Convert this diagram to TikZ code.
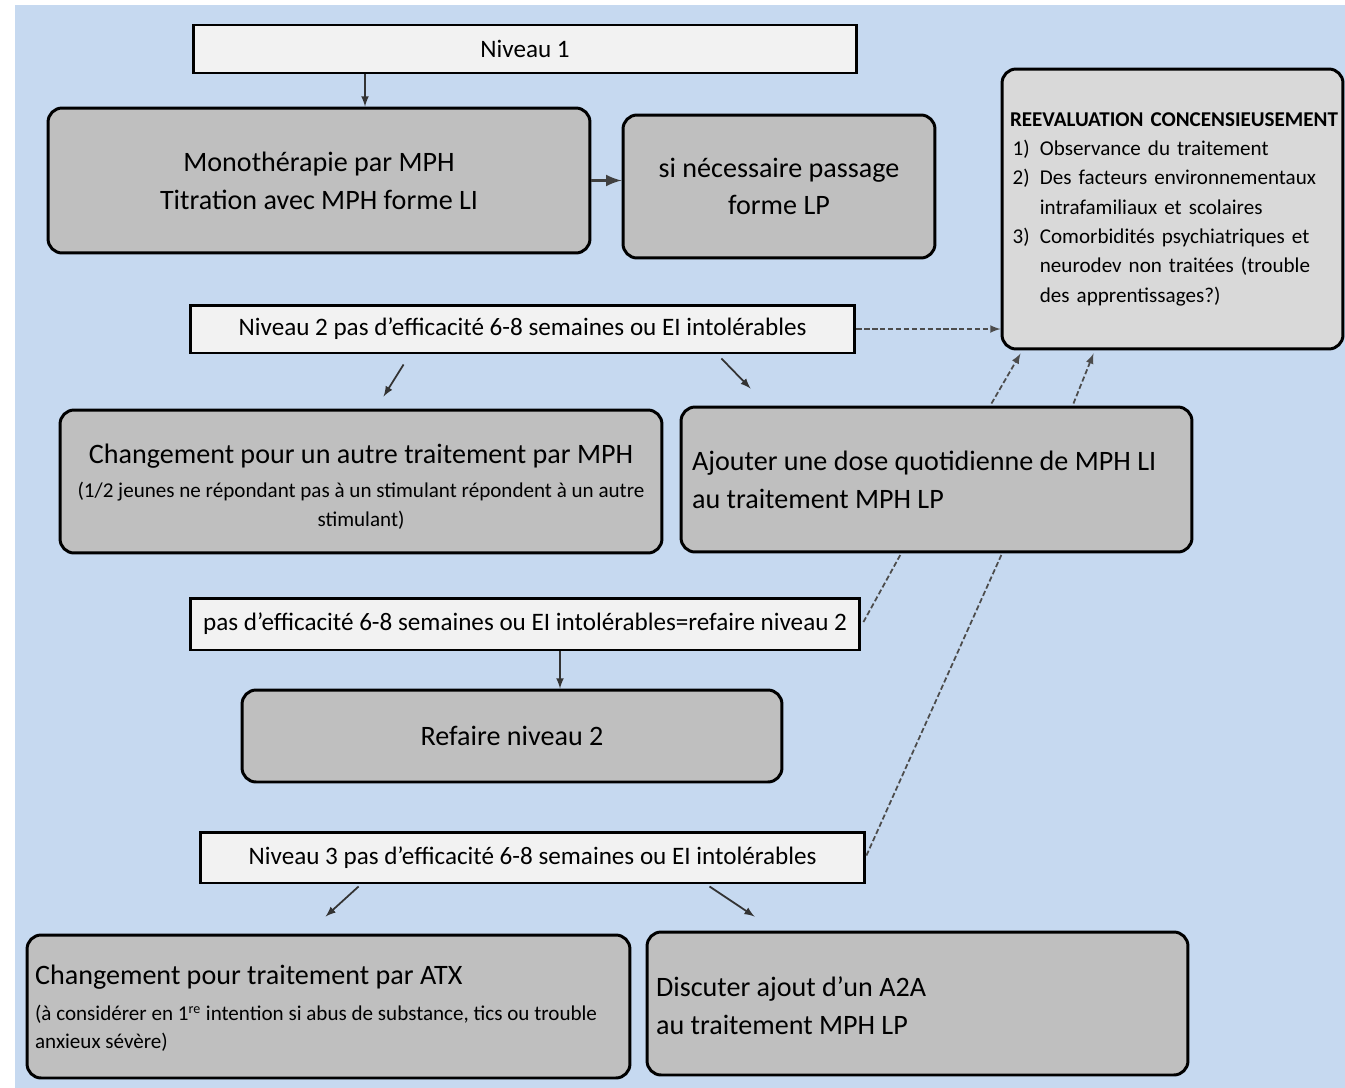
\documentclass[tikz,border=0pt]{standalone}
\usepackage{fontspec}
\setmainfont{Carlito}
\usepackage{tikz}
\usetikzlibrary{positioning}
\usetikzlibrary{arrows,calc}
\definecolor{bgblue}{RGB}{198,217,240}
\definecolor{lvlgray}{RGB}{242,242,242}
\definecolor{stepgray}{RGB}{191,191,191}
\definecolor{notegray}{RGB}{217,217,217}
\tikzstyle{levelbox}=[rectangle,draw=black,line width=1.7pt,fill=lvlgray,inner sep=0pt,font=\fontsize{14.3}{17}\selectfont]
\tikzstyle{stepbox}=[rectangle,rounded corners=8pt,draw=black,line width=1.7pt,fill=stepgray,inner sep=0pt,font=\fontsize{16}{21.5}\selectfont]
\tikzstyle{notebox}=[stepbox,fill=notegray,font=\fontsize{12}{16.7}\selectfont]
\tikzstyle{edge}=[draw=black!80,line width=1pt,-latex]
\tikzstyle{dashedge}=[draw=black!70,line width=1pt,dash pattern=on 3pt off 1.5pt]
\newcommand{\smalltxt}{\fontsize{12}{16}\selectfont}

\begin{document}
\begin{tikzpicture}[x=0.02cm,y=-0.02cm]

  \useasboundingbox (0,0) rectangle (1345,1088);
  \fill[bgblue] (15,5) rectangle (1345,1088);

  % niveau 1
  \node[levelbox,minimum width=13.28cm,minimum height=0.96cm] (niv1) at (525,49) {Niveau 1};
  \node[stepbox,minimum width=10.84cm,minimum height=2.9cm,align=center] (mono) at (319,180.5)
       {Monothérapie par MPH\\Titration avec MPH forme LI};
  \node[stepbox,minimum width=6.24cm,minimum height=2.86cm,align=center] (passage) at (779,186.5)
       {si nécessaire passage\\forme LP};

  \node[notebox,text width=6.5cm,inner xsep=0.16cm,minimum height=5.6cm,align=left] (reeval) at (1172.5,209)
       {\mbox{\bfseries REEVALUATION CONCENSIEUSEMENT}\\
        \hspace*{1.5pt}\makebox[15.5pt][l]{1)}Observance du traitement\\
        \hspace*{1.5pt}\makebox[15.5pt][l]{2)}Des facteurs environnementaux\\
        \hspace*{17pt}intrafamiliaux et scolaires\\
        \hspace*{1.5pt}\makebox[15.5pt][l]{3)}Comorbidités psychiatriques et\\
        \hspace*{17pt}neurodev non traitées (trouble\\
        \hspace*{17pt}des apprentissages?)};

  % niveau 2
  \node[levelbox,minimum width=13.3cm,minimum height=0.96cm] (niv2) at (522.5,329)
       {Niveau 2 pas d'efficacité 6-8 semaines ou EI intolérables};
  \node[stepbox,minimum width=12.04cm,minimum height=2.86cm,align=center] (autre) at (361,481.5)
       {\rule{0pt}{20pt}Changement pour un autre traitement par MPH\\[-2pt]
        {\smalltxt\begin{tabular}[t]{@{}c@{}}(1/2 jeunes ne répondant pas à un stimulant répondent à un autre\\stimulant)\end{tabular}}};
  \node[stepbox,text width=9.78cm,inner xsep=0.22cm,minimum height=2.9cm,align=flush left] (ajout) at (936.5,479.5)
       {Ajouter une dose quotidienne de MPH LI\\au traitement MPH LP};

  \node[levelbox,minimum width=13.4cm,minimum height=1.04cm] (echec) at (525,624)
       {pas d'efficacité 6-8 semaines ou EI intolérables=refaire niveau 2};
  \node[stepbox,minimum width=10.8cm,minimum height=1.84cm] (refaire) at (512,736) {Refaire niveau 2};

  % niveau 3
  \node[levelbox,minimum width=13.3cm,minimum height=1.02cm] (niv3) at (532.5,857.5)
       {Niveau 3 pas d'efficacité 6-8 semaines ou EI intolérables};
  \node[stepbox,text width=11.74cm,inner xsep=0.16cm,minimum height=2.86cm,align=flush left] (atx) at (328.5,1006.5)
       {\rule{0pt}{16.5pt}Changement pour traitement par ATX\\[-1pt]
        {\smalltxt\begin{tabular}[t]{@{}l@{}}(à considérer en 1\textsuperscript{re} intention si abus de substance, tics ou trouble\\anxieux sévère)\end{tabular}}};
  \node[stepbox,text width=10.46cm,inner xsep=0.18cm,minimum height=2.86cm,align=flush left] (a2a) at (917.5,1003.5)
       {\rule{0pt}{14pt}Discuter ajout d'un A2A\\au traitement MPH LP};

  \draw[edge] ($(niv1.south)+(-160,0)$) -- ($(mono.north)+(46,0)$);
  \draw[draw=black!75,line width=2pt,-latex] (mono.east) -- (mono.east -| passage.west);
  \draw[dashedge,-latex] (niv2.east) -- (niv2.east -| reeval.west);

  \draw[edge] ($(niv2.south west)+(215,10)$) -- ($(autre.north west)+(325,-12)$);
  \draw[edge] ($(niv2.south east)+(-135,4)$) -- ($(ajout.north west)+(71,-17)$);

  \foreach \dx/\ex in {-202/20, -120/93}
     \draw[dashedge,-latex] ($(ajout.north east)+(\dx,-2)$) -- ($(reeval.south west)+(\ex,3)$);

  \draw[dashedge] ($(echec.east)+(2,-2)$) -- ($(ajout.south west)+(221,1)$);
  \draw[dashedge] ($(niv3.east)+(0,-2)$) -- ($(ajout.south west)+(322,1)$);
  \draw[edge] ($(echec.south)+(35,0)$) -- ($(refaire.north)+(48,0)$);

  \draw[edge] ($(niv3.south west)+(160,2)$) -- ($(atx.north west)+(300,-17)$);
  \draw[edge] ($(niv3.south west)+(511,2)$) -- ($(a2a.north west)+(109,-14)$);

\end{tikzpicture}
\end{document}
